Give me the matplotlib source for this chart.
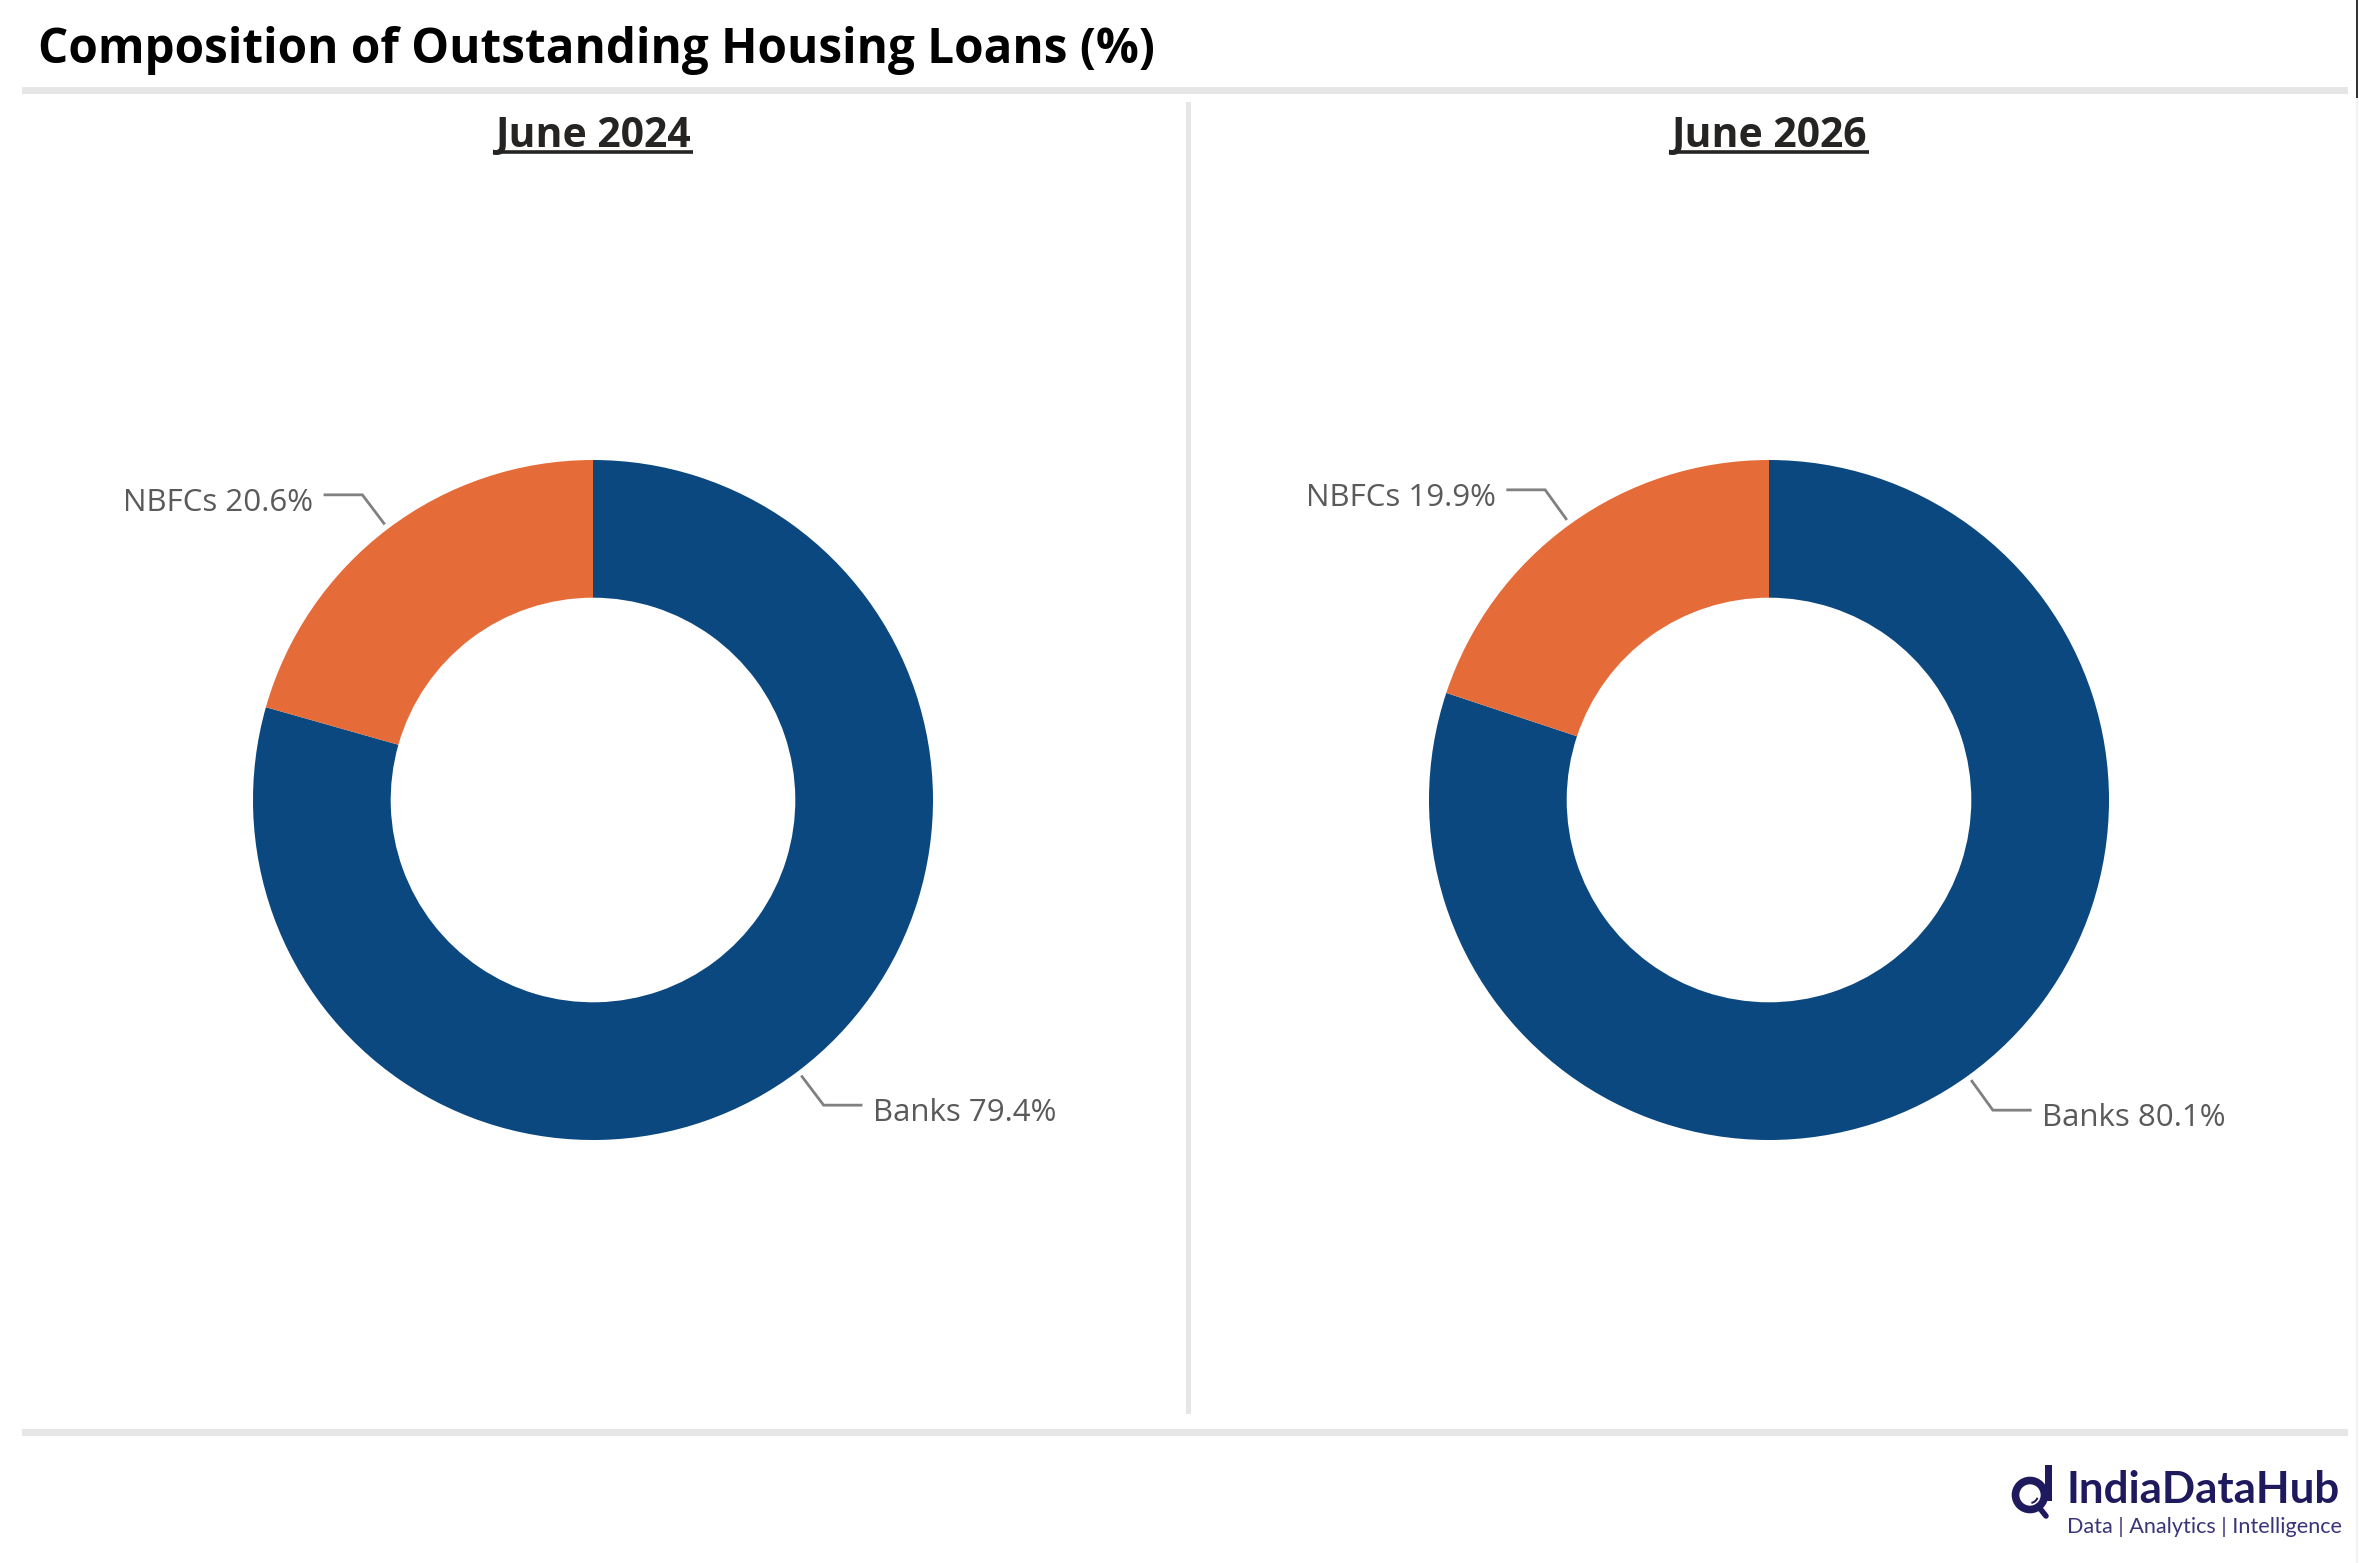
import numpy as np
import matplotlib
matplotlib.use("Agg")
import matplotlib.pyplot as plt
from matplotlib.patches import Rectangle, Circle, Wedge

# data
periods = ["June 2024", "June 2026"]
segments = ["Banks", "NBFCs"]
shares_2024 = [79.4, 20.6]
shares_2026 = [80.1, 19.9]
all_shares = [shares_2024, shares_2026]

BLUE = "#0B4880"
ORANGE = "#E56C38"
W, H = 2359, 1563

fig = plt.figure(figsize=(W / 100, H / 100), dpi=100)
fig.patch.set_facecolor("white")

# background axes in pixel coords (y down)
bg = fig.add_axes([0, 0, 1, 1], zorder=0)
bg.set_xlim(0, W)
bg.set_ylim(H, 0)
bg.axis("off")

def fit(t, target):
    r = fig.canvas.get_renderer()
    w = t.get_window_extent(r).width
    t.set_fontsize(t.get_fontsize() * target / w)

# frame lines
bg.add_patch(Rectangle((22, 87), 2326, 7, color="#E6E6E6", lw=0))
bg.add_patch(Rectangle((22, 1429), 2326, 7, color="#E6E6E6", lw=0))
bg.add_patch(Rectangle((1186, 102), 5, 1312, color="#E6E6E6", lw=0))
bg.add_patch(Rectangle((2356, 0), 2, 98, color="#333333", lw=0))
bg.add_patch(Rectangle((2356, 98), 2, H - 98, color="#F2F2F2", lw=0))

title = bg.text(38, 63, "Composition of Outstanding Housing Loans (%)",
                fontsize=36, fontweight="bold", family="Open Sans",
                color="black", va="baseline", ha="left")
fit(title, 1117)

centers_x = [593, 1769]
R_PX = 340
L = 1.7

for i, (per, vals) in enumerate(zip(periods, all_shares)):
    cx = centers_x[i]
    sub = bg.text(cx, 147, per, fontsize=28, fontweight="bold", family="Open Sans",
                  color="#252423", ha="center", va="baseline")
    fit(sub, 195)
    ext = sub.get_window_extent(fig.canvas.get_renderer())
    bg.plot([ext.x0 - 2, ext.x1 + 2], [151.5, 151.5], color="#252423", lw=2.6,
            solid_capstyle="butt")

    side = 2 * L * R_PX
    ax = fig.add_axes([(cx - side / 2) / W, (H - 800 - side / 2) / H, side / W, side / H],
                      zorder=2)
    ax.pie(vals, colors=[BLUE, ORANGE], startangle=90, counterclock=False,
           radius=1, wedgeprops=dict(width=0.405, linewidth=0))
    ax.set_xlim(-L, L)
    ax.set_ylim(-L, L)
    ax.set_aspect("equal")
    ax.axis("off")

    # leader lines + labels
    start = 90.0
    for name, v in zip(segments, vals):
        mid = start - v * 3.6 / 2
        start -= v * 3.6
        a = np.deg2rad(mid)
        x0, y0 = 1.02 * np.cos(a), 1.02 * np.sin(a)
        x1, y1 = 1.125 * np.cos(a), 1.125 * np.sin(a)
        side_sign = 1 if np.cos(a) > 0 else -1
        x2 = x1 + side_sign * 0.11
        ax.plot([x0, x1, x2], [y0, y1, y1], color="#808080", lw=2.0,
                solid_joinstyle="miter", clip_on=False)
        ax.text(x2 + side_sign * 0.035, y1 - 0.024, f"{name} {v}%",
                ha="left" if side_sign > 0 else "right", va="center",
                fontsize=22.5, family="Open Sans", color="#5A5A5A")

# logo
NAVY = "#1F1A5E"
bg.add_patch(Circle((2030, 1495), 14.5, fill=False, ec=NAVY, lw=5.5))
bg.add_patch(Rectangle((2045, 1465), 7, 36, color=NAVY, lw=0))
bg.plot([2038, 2046], [1506, 1516], color=NAVY, lw=4, solid_capstyle="round")
bg.add_patch(Wedge((2030, 1495), 9, 20, 80, width=2, color=NAVY, lw=0))
logo = bg.text(2067, 1503, "IndiaDataHub", fontsize=22, fontweight="bold",
               family="Lato", color=NAVY, ha="left", va="baseline")
fit(logo, 273)
tag = bg.text(2067, 1533, "Data | Analytics | Intelligence", fontsize=11,
              family="Lato", color="#3A3578", ha="left", va="baseline")
fit(tag, 273)

fig.savefig("out.png", dpi=100, facecolor="white")
